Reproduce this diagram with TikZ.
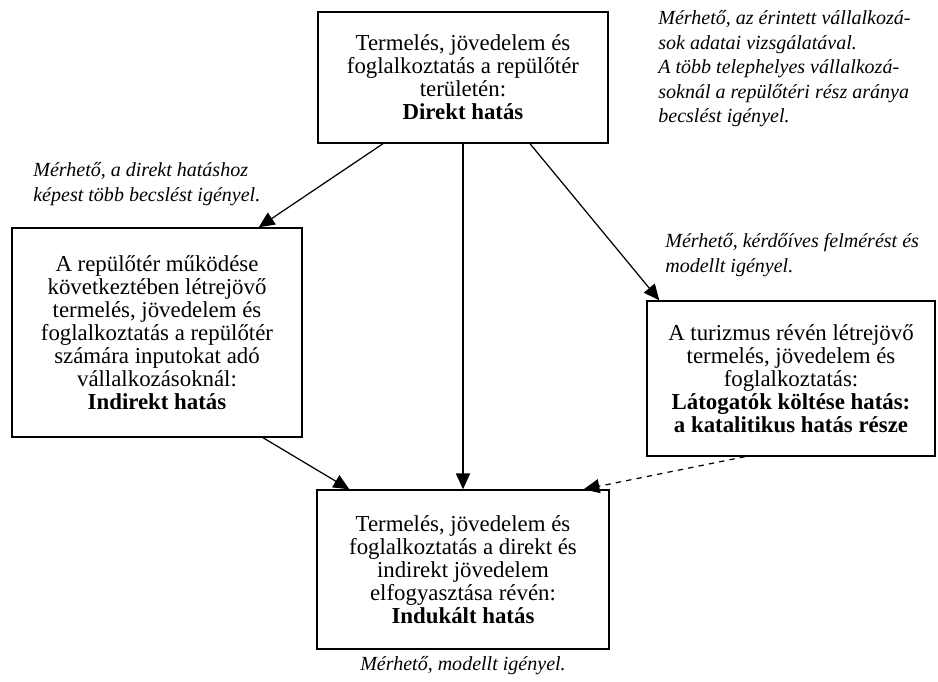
\documentclass[tikz,border=0pt]{standalone}
\usepackage{fontspec}
\setmainfont{Liberation Serif}
\usetikzlibrary{positioning}
\usetikzlibrary{arrows.meta}
\tikzset{
    hatas/.style = {rectangle, draw=black, line width=0.8pt, align=center, inner sep=2pt, font=\fontsize{13}{13.1}\selectfont},
    megj/.style = {align=left, inner sep=0pt, font=\fontsize{11.4}{14}\selectfont\itshape},
    nyil/.style = {line width=0.7pt, -{Triangle[length=9pt,width=8pt]}},
    nyild/.style = {nyil, dashed}, % katalitikus
}
\begin{document}
\begin{tikzpicture}[x=0.02cm,y=-0.02cm]
\useasboundingbox (0,0) rectangle (938,682);

\node[hatas, minimum width=5.8cm, minimum height=2.62cm] at (463,77.5) (direkt)
  {Termelés, jövedelem és\\foglalkoztatás a repülőtér\\területén:\\\textbf{Direkt hatás}};
\node[hatas, minimum width=5.8cm, minimum height=4.18cm] at (157,332.5) (indirekt)
  {A repülőtér működése\\következtében létrejövő\\termelés, jövedelem és\\foglalkoztatás a repülőtér\\számára inputokat adó\\vállalkozásoknál:\\\textbf{Indirekt hatás}};
\node[hatas, minimum width=5.76cm, minimum height=3.1cm] at (791,378.5) (turizmus)
  {A turizmus révén létrejövő\\termelés, jövedelem és\\foglalkoztatás:\\\textbf{Látogatók költése hatás:}\\\textbf{a katalitikus hatás része}};
\node[hatas, minimum width=5.84cm, minimum height=3.18cm] at (463,569.5) (indukalt)
  {Termelés, jövedelem és\\foglalkoztatás a direkt és\\indirekt jövedelem\\elfogyasztása révén:\\\textbf{Indukált hatás}};

\node[megj, anchor=north west] at (658,10) (m1)
  {Mérhető, az érintett vállalkozá-\\sok adatai vizsgálatával.\\A több telephelyes vállalkozá-\\soknál a repülőtéri rész aránya\\becslést igényel.};
\node[megj, anchor=north west] at (33,162) (m2)
  {Mérhető, a direkt hatáshoz\\képest több becslést igényel.};
\node[megj, anchor=north west] at (665,233) (m3)
  {Mérhető, kérdőíves felmérést és\\modellt igényel.};
\node[megj, anchor=north] at (463,656) (m4) {Mérhető, modellt igényel.};

\draw[nyil] ([xshift=-1.6cm]direkt.south) -- ([xshift=-0.88cm]indirekt.north east);
\draw[nyil] (direkt.south) -- (indukalt.north);
\draw[nyil] ([xshift=1.34cm]direkt.south) -- ([xshift=0.26cm]turizmus.north west);
\draw[nyil] ([xshift=2.12cm]indirekt.south) -- ([xshift=0.66cm]indukalt.north west);
\draw[nyild] ([xshift=-0.92cm]turizmus.south) -- ([xshift=-0.52cm]indukalt.north east);

\end{tikzpicture}
\end{document}
